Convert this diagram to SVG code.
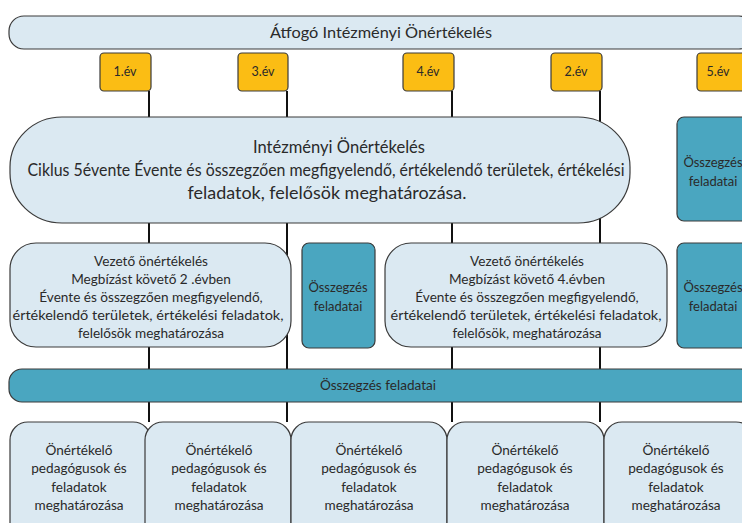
<svg xmlns="http://www.w3.org/2000/svg" width="742" height="523" viewBox="0 0 742 523">
<style>
.lb{fill:#dbe9f2;stroke:#3a3a3a;stroke-width:1.2}
.or{fill:#fbbd14;stroke:#3a3a3a;stroke-width:1.2}
.tl{fill:#4aa6c0;stroke:#3a3a3a;stroke-width:1.2}
.cn{stroke:#111;stroke-width:2;fill:none}
text{font-family:"Lato","Liberation Sans",sans-serif;fill:#2a2a2a;text-anchor:middle}
.t15{font-size:15.5px}
.t12{font-size:12.5px}
.t13{font-size:13px}
.tm{font-size:13.6px}
.t16{font-size:16.5px}
</style>
<rect width="742" height="523" fill="#ffffff"/>
<g id="connectors">
<line class="cn" x1="149" y1="91" x2="149" y2="422"/>
<line class="cn" x1="287" y1="91" x2="287" y2="422"/>
<line class="cn" x1="452" y1="91" x2="452" y2="422"/>
<line class="cn" x1="600" y1="91" x2="600" y2="422"/>
</g>
<g id="top">
<rect class="lb" x="9" y="16" width="745" height="33" rx="15"/>
<text class="t15" x="381" y="38" textLength="222" lengthAdjust="spacingAndGlyphs">Átfogó Intézményi Önértékelés</text>
</g>
<g id="y1"><rect class="or" x="100" y="53" width="51" height="38" rx="4"/><text class="t12" x="125" y="76">1.év</text></g>
<g id="y3"><rect class="or" x="238" y="53" width="50" height="38" rx="4"/><text class="t12" x="263" y="76">3.év</text></g>
<g id="y4"><rect class="or" x="403" y="53" width="51" height="38" rx="4"/><text class="t12" x="428" y="76">4.év</text></g>
<g id="y2"><rect class="or" x="551" y="53" width="51" height="38" rx="4"/><text class="t12" x="576" y="76">2.év</text></g>
<g id="y5"><rect class="or" x="697" y="53" width="60" height="38" rx="4"/><text class="t12" x="718" y="76">5.év</text></g>
<g id="main">
<rect class="lb" x="10" y="117" width="620" height="106" rx="52" ry="50"/>
<text class="t16" x="339" y="153" textLength="172" lengthAdjust="spacingAndGlyphs">Intézményi Önértékelés</text>
<text class="t16" x="326" y="176" textLength="597" lengthAdjust="spacingAndGlyphs">Ciklus 5évente  Évente és összegzően megfigyelendő, értékelendő területek, értékelési</text>
<text class="t16" x="327" y="199" textLength="279" lengthAdjust="spacingAndGlyphs">feladatok, felelősök meghatározása.</text>
</g>
<g id="sum-top">
<rect class="tl" x="677" y="117" width="80" height="104" rx="7"/>
<text class="t13" x="713" y="167">Összegzés</text>
<text class="t13" x="713" y="186">feladatai</text>
</g>
<g id="lead2">
<rect class="lb" x="10" y="243" width="281" height="104" rx="26"/>
<text class="tm" x="151" y="266">Vezető önértékelés</text>
<text class="tm" x="151" y="284">Megbízást követő 2 .évben</text>
<text class="tm" x="151" y="302">Évente és összegzően megfigyelendő,</text>
<text class="tm" x="148" y="320" textLength="271" lengthAdjust="spacingAndGlyphs">értékelendő területek, értékelési feladatok,</text>
<text class="tm" x="151" y="338">felelősök meghatározása</text>
</g>
<g id="sum-mid">
<rect class="tl" x="302" y="243" width="73" height="105" rx="7"/>
<text class="t13" x="338" y="292">Összegzés</text>
<text class="t13" x="338" y="311">feladatai</text>
</g>
<g id="lead4">
<rect class="lb" x="385" y="243" width="282" height="104" rx="26"/>
<text class="tm" x="527" y="266">Vezető önértékelés</text>
<text class="tm" x="527" y="284">Megbízást követő 4.évben</text>
<text class="tm" x="527" y="302">Évente és összegzően megfigyelendő,</text>
<text class="tm" x="526" y="320" textLength="271" lengthAdjust="spacingAndGlyphs">értékelendő területek, értékelési feladatok,</text>
<text class="tm" x="527" y="338">felelősök, meghatározása</text>
</g>
<g id="sum-right">
<rect class="tl" x="677" y="243" width="80" height="105" rx="7"/>
<text class="t13" x="713" y="292">Összegzés</text>
<text class="t13" x="713" y="311">feladatai</text>
</g>
<g id="sum-bar">
<rect class="tl" x="9" y="369" width="745" height="33" rx="13"/>
<text class="tm" x="378" y="390">Összegzés feladatai</text>
</g>
<g id="p1">
<rect class="lb" x="10" y="422" width="141" height="120" rx="18"/>
<text class="tm" x="79" y="455">Önértékelő</text>
<text class="tm" x="79" y="473">pedagógusok és</text>
<text class="tm" x="79" y="492">feladatok</text>
<text class="tm" x="79" y="510">meghatározása</text>
</g>
<g id="p2">
<rect class="lb" x="145" y="422" width="146" height="120" rx="18"/>
<text class="tm" x="219" y="455">Önértékelő</text>
<text class="tm" x="219" y="473">pedagógusok és</text>
<text class="tm" x="219" y="492">feladatok</text>
<text class="tm" x="219" y="510">meghatározása</text>
</g>
<g id="p3">
<rect class="lb" x="291" y="422" width="156" height="120" rx="18"/>
<text class="tm" x="369" y="455">Önértékelő</text>
<text class="tm" x="369" y="473">pedagógusok és</text>
<text class="tm" x="369" y="492">feladatok</text>
<text class="tm" x="369" y="510">meghatározása</text>
</g>
<g id="p4">
<rect class="lb" x="447" y="422" width="157" height="120" rx="18"/>
<text class="tm" x="525" y="455">Önértékelő</text>
<text class="tm" x="525" y="473">pedagógusok és</text>
<text class="tm" x="525" y="492">feladatok</text>
<text class="tm" x="525" y="510">meghatározása</text>
</g>
<g id="p5">
<rect class="lb" x="604" y="422" width="150" height="120" rx="18"/>
<text class="tm" x="676" y="455">Önértékelő</text>
<text class="tm" x="676" y="473">pedagógusok és</text>
<text class="tm" x="676" y="492">feladatok</text>
<text class="tm" x="676" y="510">meghatározása</text>
</g>
</svg>
